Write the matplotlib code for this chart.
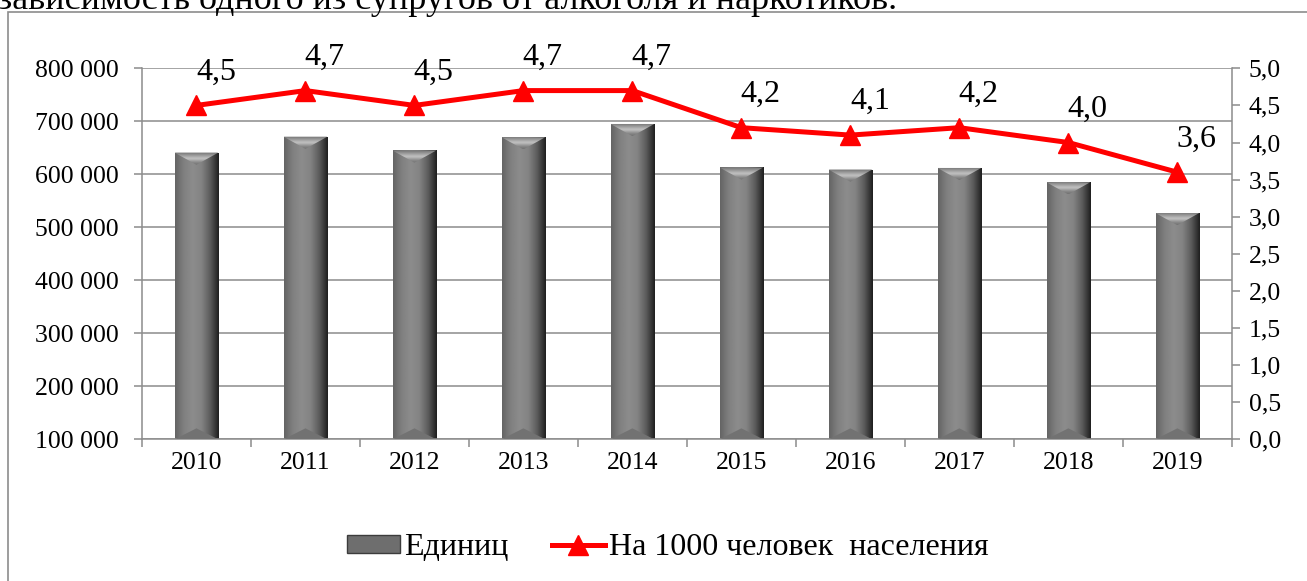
import numpy as np
import matplotlib
matplotlib.use('Agg')
import matplotlib.pyplot as plt
from matplotlib.patches import Patch, Polygon, Rectangle
from matplotlib.lines import Line2D
from matplotlib.colors import LinearSegmentedColormap
from matplotlib.ticker import FuncFormatter, MultipleLocator

plt.rcParams['font.family'] = ['Liberation Serif', 'DejaVu Serif']

years = ['2010', '2011', '2012', '2013', '2014',
         '2015', '2016', '2017', '2018', '2019']
units = [641000, 671000, 645000, 670000, 695000,
         613000, 609000, 612000, 585000, 527000]
per_1000 = [4.5, 4.7, 4.5, 4.7, 4.7, 4.2, 4.1, 4.2, 4.0, 3.6]
bar_label = 'Единиц'
line_label = 'На 1000 человек  населения'
heading = 'зависимость одного из супругов от алкоголя и наркотиков.'

GRID = '#8c8c8c'
YMIN, YMAX = 100000, 800000

fig = plt.figure(figsize=(13.07, 5.81), dpi=100)
ax = fig.add_axes([0.1086, 0.2439, 0.8339, 0.6385])
ax2 = ax.twinx()

# frame of the chart area and the caption line cut off above it
fig.patches.append(Rectangle((8 / 1307, -0.05), 1.1, 1 - 12 / 581 + 0.05,
                             transform=fig.transFigure, fill=False,
                             edgecolor=GRID, lw=1.2, clip_on=False))
fig.text(-2 / 1307, 1 - 9 / 581, heading, fontsize=26, va='baseline', ha='left')

x = np.arange(len(years))
body = LinearSegmentedColormap.from_list(
    'body', ['#646464', '#808080', '#8c8c8c', '#848484', '#5c5c5c', '#1e1e1e'])
cap = LinearSegmentedColormap.from_list(
    'cap', ['#707070', '#9a9a9a', '#c4c4c4', '#909090', '#707070'])

bars = ax.bar(x, np.array(units) - YMIN, bottom=YMIN, width=0.4,
              color='#7a7a7a', edgecolor='none', zorder=2)
grad = np.linspace(0, 1, 256).reshape(1, -1)
vgrad = np.linspace(0, 1, 64).reshape(-1, 1)
bevel = 23000
for b in bars:
    x0, w = b.get_x(), b.get_width()
    top = b.get_y() + b.get_height()
    im = ax.imshow(grad, cmap=body, aspect='auto', zorder=2,
                   extent=(x0, x0 + w, YMIN, top), interpolation='bicubic')
    im.set_clip_path(b)
    tri = Polygon([(x0, top), (x0 + w, top), (x0 + w / 2, top - bevel)],
                  closed=True, facecolor='none', edgecolor='none', zorder=3)
    ax.add_patch(tri)
    im2 = ax.imshow(vgrad, cmap=cap, aspect='auto', zorder=3,
                    extent=(x0, x0 + w, top - bevel, top), interpolation='bicubic')
    im2.set_clip_path(tri)
    btri = Polygon([(x0, YMIN), (x0 + w, YMIN), (x0 + w / 2, YMIN + bevel * 0.9)],
                   closed=True, facecolor='#727272', edgecolor='none', zorder=3)
    ax.add_patch(btri)

ax.set_xlim(-0.5, len(years) - 0.5)
ax.set_ylim(YMIN, YMAX)
ax.yaxis.set_major_locator(MultipleLocator(100000))
ax.yaxis.set_major_formatter(FuncFormatter(lambda v, p: f'{int(v):,}'.replace(',', ' ')))
ax.grid(axis='y', color=GRID, lw=1.1, zorder=0)
ax.set_axisbelow(True)

ax.set_xticks(np.arange(-0.5, len(years), 1.0))
ax.set_xticklabels([])
ax.set_xticks(x, minor=True)
ax.set_xticklabels(years, minor=True, fontsize=18.5)
ax.tick_params(axis='x', which='major', length=6, width=1.1, color=GRID, direction='out')
ax.tick_params(axis='x', which='minor', length=0, pad=9)
ax.tick_params(axis='y', length=6, width=1.1, color=GRID, labelsize=18.5, pad=11)

ax2.plot(x, per_1000, color='#ff0000', lw=3.6, marker='^', markersize=15, zorder=5)
ax2.set_ylim(0, 5)
ax2.yaxis.set_major_locator(MultipleLocator(0.5))
ax2.yaxis.set_major_formatter(FuncFormatter(lambda v, p: f'{v:.1f}'.replace('.', ',')))
ax2.tick_params(axis='y', length=6, width=1.1, color=GRID, labelsize=18.5, pad=6)
for xi, v in zip(x, per_1000):
    ax2.annotate(f'{v:.1f}'.replace('.', ','), (xi, v), xytext=(14, 24),
                 textcoords='offset points', ha='center', va='center', fontsize=23)

for a in (ax, ax2):
    for side in ('top', 'right', 'left', 'bottom'):
        a.spines[side].set_visible(False)
ax.spines['left'].set_visible(True)
ax.spines['bottom'].set_visible(True)
ax2.spines['right'].set_visible(True)
for s in (ax.spines['left'], ax.spines['bottom'], ax2.spines['right']):
    s.set_color(GRID)
    s.set_linewidth(1.1)

handles = [Patch(facecolor='#6e6e6e', edgecolor='#3c3c3c', lw=1.0),
           Line2D([], [], color='#ff0000', lw=3.6, marker='^', markersize=15)]
fig.legend(handles, [bar_label, line_label], loc='center',
           bbox_to_anchor=(0.511, 0.057), ncol=2, frameon=False, fontsize=23,
           handlelength=1.65, handleheight=0.5, handletextpad=0.15,
           columnspacing=1.35)

fig.savefig('out.png', dpi=100)
